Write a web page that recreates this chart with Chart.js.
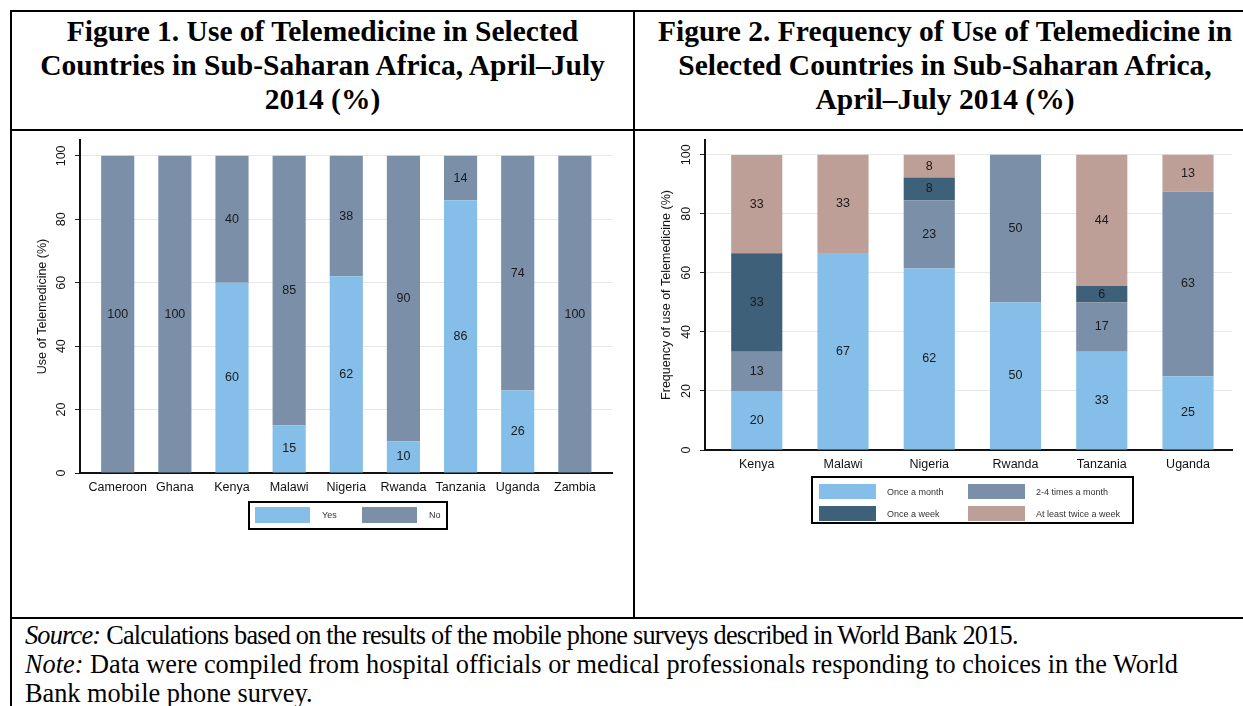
<!DOCTYPE html>
<html lang="en">
<head>
<meta charset="UTF-8">
<title>Telemedicine in Sub-Saharan Africa</title>
<style>
  html, body { margin: 0; padding: 0; background: #fff; }
  body {
    width: 1243px; height: 706px; overflow: hidden; position: relative;
    font-family: "Liberation Serif", "Times New Roman", serif; color: #000;
  }
  /* table rules */
  .line { position: absolute; background: #000; }
  .head {
    position: absolute; top: 14px; text-align: center;
    font-weight: bold; font-size: 29.5px; line-height: 34px; white-space: nowrap;
  }
  #head1 { left: 12px; width: 621px; }
  #head2 { left: 635px; width: 620px; }
  canvas { position: absolute; top: 131px; }
  #chart1 { left: 12px; }
  #chart2 { left: 635px; }
  .foot {
    position: absolute; left: 25px; top: 621px; width: 1153px;
    font-size: 26.3px; line-height: 29px;
  }
  .foot div { white-space: nowrap; }
  .foot .tight { letter-spacing: -0.78px; }
  .foot .just { text-align: justify; text-align-last: justify; white-space: normal; }
</style>
</head>
<body>
  <div class="line" style="left:10px;top:10px;width:1240px;height:2px"></div>
  <div class="line" style="left:10px;top:10px;width:2px;height:700px"></div>
  <div class="line" style="left:633px;top:10px;width:2px;height:609px"></div>
  <div class="line" style="left:10px;top:129px;width:1240px;height:2px"></div>
  <div class="line" style="left:10px;top:617px;width:1240px;height:2px"></div>

  <div class="head" id="head1">Figure 1. Use of Telemedicine in Selected<br>Countries in Sub-Saharan Africa, April–July<br>2014 (%)</div>
  <div class="head" id="head2">Figure 2. Frequency of Use of Telemedicine in<br>Selected Countries in Sub-Saharan Africa,<br>April–July 2014 (%)</div>

  <canvas id="chart1" width="621" height="486"></canvas>
  <canvas id="chart2" width="608" height="486"></canvas>

  <div class="foot">
    <div class="tight"><i>Source:</i> Calculations based on the results of the mobile phone surveys described in World Bank 2015.</div>
    <div class="just"><i>Note:</i> Data were compiled from hospital officials or medical professionals responding to choices in the World</div>
    <div>Bank mobile phone survey.</div>
  </div>

<script src="https://cdn.jsdelivr.net/npm/chart.js"></script>
<script>
// Figure 1 data
const countries1 = ['Cameroon', 'Ghana', 'Kenya', 'Malawi', 'Nigeria', 'Rwanda', 'Tanzania', 'Uganda', 'Zambia'];
const yes1 = [0, 0, 60, 15, 62, 10, 86, 26, 0];
const no1 = [100, 100, 40, 85, 38, 90, 14, 74, 100];

// Figure 2 data
const countries2 = ['Kenya', 'Malawi', 'Nigeria', 'Rwanda', 'Tanzania', 'Uganda'];
const onceMonth = [20, 66.7, 61.5, 50, 33.3, 25];
const twoFourMonth = [13.3, 0, 23.1, 50, 16.7, 62.5];
const onceWeek = [33.3, 0, 7.7, 0, 5.6, 0];
const twiceWeek = [33.3, 33.3, 7.7, 0, 44.4, 12.5];

const yTicks = [0, 20, 40, 60, 80, 100];

const SANS = '"Liberation Sans", Arial, sans-serif';
const LIGHT_BLUE = '#84bee9';
const GREY_BLUE = '#7b90a8';
const DARK_BLUE = '#3f6079';
const ROSE = '#be9f98';

Chart.defaults.font.family = SANS;

// numbers in the middle of each bar segment
const valueLabels = {
    id: 'valueLabels',
    afterDatasetsDraw(chart) {
        const ctx = chart.ctx;
        ctx.save();
        ctx.font = '12.5px ' + SANS;
        ctx.fillStyle = '#1a1a1a';
        ctx.textAlign = 'center';
        ctx.textBaseline = 'middle';
        chart.data.datasets.forEach((ds, i) => {
            chart.getDatasetMeta(i).data.forEach((bar, j) => {
                const v = ds.data[j];
                if (!v) return;
                const p = bar.getProps(['x', 'y', 'base'], true);
                ctx.fillText(Math.round(v), p.x, (p.y + p.base) / 2);
            });
        });
        ctx.restore();
    }
};

// Stata-style vertical tick labels on the y axis
const rotatedTicks = {
    id: 'rotatedTicks',
    afterDraw(chart, args, opts) {
        const scale = chart.scales.y;
        const ctx = chart.ctx;
        ctx.save();
        ctx.font = '12.5px ' + SANS;
        ctx.fillStyle = '#111';
        ctx.textAlign = 'center';
        ctx.textBaseline = 'middle';
        scale.ticks.forEach(t => {
            ctx.save();
            ctx.translate(scale.right - opts.offset, scale.getPixelForValue(t.value));
            ctx.rotate(-Math.PI / 2);
            ctx.fillText(t.value, 0, 0);
            ctx.restore();
        });
        ctx.restore();
    }
};

// framed legend in a fixed grid
const boxLegend = {
    id: 'boxLegend',
    afterDraw(chart, args, o) {
        const ctx = chart.ctx;
        const area = chart.chartArea;
        const left = area.left + o.dx;
        const top = area.bottom + o.dy;
        ctx.save();
        ctx.lineWidth = 2;
        ctx.strokeStyle = '#000';
        ctx.strokeRect(left, top, o.width, o.height);
        ctx.font = '9px ' + SANS;
        ctx.textAlign = 'left';
        ctx.textBaseline = 'middle';
        chart.data.datasets.forEach((ds, i) => {
            const col = i % o.cols;
            const row = Math.floor(i / o.cols);
            const bx = left + o.padX + col * o.colPitch;
            const by = top + o.padY + row * o.rowPitch;
            ctx.fillStyle = ds.backgroundColor;
            ctx.fillRect(bx, by, o.boxW, o.boxH);
            ctx.fillStyle = '#333';
            ctx.fillText(ds.label, bx + o.boxW + o.gap, by + o.boxH / 2 + 1);
        });
        ctx.restore();
    }
};

// leave a small gap between the axes and the first / last bar
function padCategories(l, r) {
    return scale => {
        scale._startValue -= l;
        scale._valueRange += l + r;
    };
}

function xScale(padL, padR) {
    return {
        stacked: true,
        z: 1,
        afterBuildTicks: padCategories(padL, padR),
        afterFit: s => { s.height = 30; },
        grid: { display: false, drawTicks: false },
        border: { color: '#111', width: 2 },
        ticks: {
            color: '#111', font: { size: 12.5 }, padding: 7,
            autoSkip: false, maxRotation: 0, minRotation: 0
        }
    };
}

function yScale(width, title, titlePad) {
    return {
        stacked: true,
        min: 0,
        max: 105,
        afterBuildTicks: s => { s.ticks = yTicks.map(v => ({ value: v })); },
        afterFit: s => { s.width = width; },
        ticks: { display: false },
        grid: { color: '#e8e8e8', lineWidth: 1, tickColor: '#222', tickLength: 5, tickWidth: 1 },
        border: { color: '#111', width: 2 },
        title: {
            display: true, text: title, color: '#111',
            font: { size: 12.5, lineHeight: 1 },
            padding: { top: titlePad, bottom: 0 }
        }
    };
}

function bars(label, data, color, pct) {
    return { label: label, data: data, backgroundColor: color, barPercentage: pct, categoryPercentage: 1 };
}

new Chart(document.getElementById('chart1'), {
    type: 'bar',
    data: {
        labels: countries1,
        datasets: [
            bars('Yes', yes1, LIGHT_BLUE, 0.58),
            bars('No', no1, GREY_BLUE, 0.58)
        ]
    },
    options: {
        responsive: false,
        animation: false,
        layout: { padding: { left: 0, right: 21, top: 9, bottom: 114 } },
        scales: {
            x: xScale(0.16, 0.15),
            y: yScale(68, 'Use of Telemedicine (%)', 24)
        },
        plugins: {
            legend: { display: false },
            tooltip: { enabled: false },
            rotatedTicks: { offset: 18 },
            boxLegend: {
                dx: 169, dy: 29, width: 198, height: 27, cols: 2,
                padX: 6, padY: 5, colPitch: 107, rowPitch: 22,
                boxW: 55, boxH: 16, gap: 12
            }
        }
    },
    plugins: [valueLabels, rotatedTicks, boxLegend]
});

new Chart(document.getElementById('chart2'), {
    type: 'bar',
    data: {
        labels: countries2,
        datasets: [
            bars('Once a month', onceMonth, LIGHT_BLUE, 0.593),
            bars('2-4 times a month', twoFourMonth, GREY_BLUE, 0.593),
            bars('Once a week', onceWeek, DARK_BLUE, 0.593),
            bars('At least twice a week', twiceWeek, ROSE, 0.593)
        ]
    },
    options: {
        responsive: false,
        animation: false,
        layout: { padding: { left: 0, right: 11, top: 9, bottom: 137 } },
        scales: {
            x: xScale(0.1, 0.01),
            y: yScale(70, 'Frequency of use of Telemedicine (%)', 25)
        },
        plugins: {
            legend: { display: false },
            tooltip: { enabled: false },
            rotatedTicks: { offset: 18 },
            boxLegend: {
                dx: 107, dy: 27, width: 321, height: 46, cols: 2,
                padX: 7, padY: 7, colPitch: 149, rowPitch: 22,
                boxW: 57, boxH: 15, gap: 11
            }
        }
    },
    plugins: [valueLabels, rotatedTicks, boxLegend]
});
</script>
</body>
</html>
